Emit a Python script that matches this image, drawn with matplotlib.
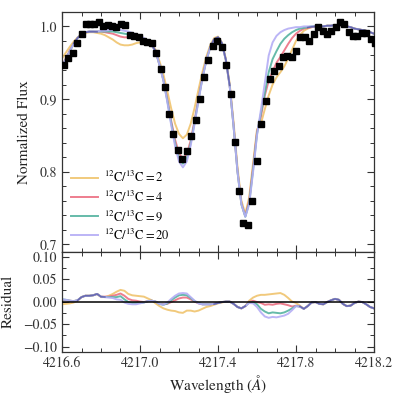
import numpy as np
import matplotlib
matplotlib.use("Agg")
import matplotlib.pyplot as plt
from matplotlib.ticker import MultipleLocator, FixedLocator, FuncFormatter

plt.rcParams['font.family'] = ['STIXGeneral', 'DejaVu Serif']
plt.rcParams['mathtext.fontset'] = 'stix'

# ---------------- observed spectrum ----------------
obs_wave = [4216.610, 4216.632, 4216.655, 4216.678, 4216.701, 4216.723, 4216.744, 4216.766, 4216.788, 4216.812,
            4216.834, 4216.856, 4216.878, 4216.903, 4216.925, 4216.949, 4216.971, 4216.993, 4217.014, 4217.037,
            4217.062, 4217.084, 4217.106, 4217.128, 4217.150, 4217.171, 4217.195, 4217.217, 4217.239, 4217.262,
            4217.286, 4217.308, 4217.328, 4217.350, 4217.373, 4217.396, 4217.419, 4217.441, 4217.465, 4217.486,
            4217.509, 4217.530, 4217.555, 4217.576, 4217.598, 4217.621, 4217.644, 4217.667, 4217.687, 4217.711,
            4217.732, 4217.755, 4217.778, 4217.800, 4217.822, 4217.846, 4217.868, 4217.891, 4217.913, 4217.937,
            4217.957, 4217.979, 4218.004, 4218.026, 4218.046, 4218.070, 4218.092, 4218.114, 4218.138, 4218.161,
            4218.183, 4218.205]
obs_flux = [0.947, 0.956, 0.964, 0.977, 0.990, 1.003, 1.003, 1.004, 1.006, 1.000,
            1.002, 1.001, 0.999, 1.004, 1.002, 0.988, 0.987, 0.985, 0.980, 0.979,
            0.977, 0.964, 0.941, 0.916, 0.880, 0.852, 0.830, 0.817, 0.828, 0.849,
            0.871, 0.900, 0.931, 0.954, 0.973, 0.980, 0.972, 0.947, 0.907, 0.841,
            0.773, 0.730, 0.727, 0.760, 0.815, 0.865, 0.898, 0.928, 0.938, 0.946,
            0.958, 0.959, 0.958, 0.966, 0.986, 0.985, 0.980, 0.989, 0.999, 0.994,
            0.989, 0.994, 0.999, 1.006, 1.003, 0.992, 0.987, 0.987, 0.991, 0.991,
            0.982, 0.977]

# ---------------- model grid ----------------
model_wave = [4216.60, 4216.62, 4216.64, 4216.66, 4216.68, 4216.70, 4216.72, 4216.74, 4216.76, 4216.78,
              4216.80, 4216.82, 4216.84, 4216.86, 4216.88, 4216.90, 4216.92, 4216.94, 4216.96, 4216.98,
              4217.00, 4217.02, 4217.04, 4217.06, 4217.08, 4217.10, 4217.12, 4217.14, 4217.16, 4217.18,
              4217.20, 4217.22, 4217.24, 4217.26, 4217.28, 4217.30, 4217.32, 4217.34, 4217.36, 4217.38,
              4217.40, 4217.42, 4217.44, 4217.46, 4217.48, 4217.50, 4217.52, 4217.54, 4217.56, 4217.58,
              4217.60, 4217.62, 4217.64, 4217.66, 4217.68, 4217.70, 4217.72, 4217.74, 4217.76, 4217.78,
              4217.80, 4217.82, 4217.84, 4217.86, 4217.88, 4217.90, 4217.92, 4217.94, 4217.96, 4217.98,
              4218.00, 4218.02, 4218.04, 4218.06, 4218.08, 4218.10, 4218.12, 4218.14, 4218.16, 4218.18,
              4218.20]

ratios = [2, 4, 9, 20]

flux_r2 = [0.956, 0.964, 0.972, 0.979, 0.985, 0.989, 0.991, 0.992, 0.992, 0.991,
           0.990, 0.988, 0.985, 0.982, 0.978, 0.975, 0.974, 0.974, 0.975, 0.977,
           0.978, 0.979, 0.978, 0.975, 0.968, 0.952, 0.934, 0.911, 0.887, 0.866,
           0.852, 0.846, 0.851, 0.866, 0.888, 0.913, 0.937, 0.958, 0.974, 0.984,
           0.986, 0.978, 0.956, 0.921, 0.868, 0.806, 0.760, 0.742, 0.765, 0.812,
           0.858, 0.866, 0.886, 0.905, 0.920, 0.930, 0.937, 0.945, 0.956, 0.968,
           0.980, 0.988, 0.994, 0.997, 0.999, 1.000, 1.000, 1.000, 1.001, 1.001,
           1.002, 1.002, 1.001, 1.000, 0.999, 0.997, 0.996, 0.995, 0.994, 0.992,
           0.990]
flux_r4 = [0.946, 0.956, 0.967, 0.976, 0.984, 0.989, 0.992, 0.993, 0.993, 0.993,
           0.993, 0.992, 0.991, 0.990, 0.988, 0.986, 0.985, 0.985, 0.985, 0.985,
           0.984, 0.982, 0.979, 0.974, 0.966, 0.947, 0.927, 0.900, 0.870, 0.844,
           0.825, 0.818, 0.824, 0.843, 0.871, 0.901, 0.930, 0.954, 0.971, 0.982,
           0.985, 0.977, 0.954, 0.918, 0.863, 0.801, 0.756, 0.739, 0.760, 0.806,
           0.855, 0.876, 0.905, 0.925, 0.938, 0.950, 0.958, 0.967, 0.976, 0.984,
           0.990, 0.994, 0.997, 0.998, 0.999, 1.000, 1.000, 1.000, 1.001, 1.001,
           1.002, 1.002, 1.001, 1.000, 0.999, 0.997, 0.996, 0.995, 0.994, 0.992,
           0.990]
flux_r9 = [0.945, 0.955, 0.966, 0.976, 0.984, 0.989, 0.992, 0.993, 0.993, 0.993,
           0.993, 0.993, 0.993, 0.993, 0.992, 0.991, 0.990, 0.989, 0.988, 0.987,
           0.986, 0.983, 0.980, 0.974, 0.966, 0.947, 0.926, 0.898, 0.867, 0.839,
           0.819, 0.811, 0.818, 0.839, 0.868, 0.899, 0.929, 0.953, 0.971, 0.982,
           0.985, 0.977, 0.954, 0.918, 0.862, 0.800, 0.755, 0.738, 0.757, 0.803,
           0.852, 0.880, 0.908, 0.937, 0.955, 0.966, 0.976, 0.983, 0.988, 0.992,
           0.995, 0.997, 0.998, 0.999, 1.000, 1.000, 1.000, 1.000, 1.001, 1.001,
           1.002, 1.002, 1.001, 1.000, 0.999, 0.997, 0.996, 0.995, 0.994, 0.992,
           0.990]
flux_r20 = [0.944, 0.955, 0.966, 0.976, 0.984, 0.989, 0.992, 0.993, 0.993, 0.993,
            0.994, 0.994, 0.995, 0.995, 0.995, 0.995, 0.994, 0.993, 0.991, 0.989,
            0.987, 0.984, 0.980, 0.974, 0.966, 0.947, 0.925, 0.896, 0.864, 0.835,
            0.814, 0.806, 0.814, 0.836, 0.866, 0.898, 0.928, 0.953, 0.971, 0.982,
            0.985, 0.977, 0.954, 0.918, 0.862, 0.800, 0.755, 0.738, 0.755, 0.800,
            0.850, 0.885, 0.922, 0.960, 0.978, 0.987, 0.992, 0.995, 0.997, 0.998,
            0.999, 0.999, 1.000, 1.000, 1.000, 1.000, 1.000, 1.000, 1.001, 1.001,
            1.002, 1.002, 1.001, 1.000, 0.999, 0.997, 0.996, 0.995, 0.994, 0.992,
            0.990]

resid_r2 = [-0.006, -0.005, -0.004, -0.002, 0.002, 0.010, 0.013, 0.013, 0.014, 0.017,
            0.010, 0.010, 0.013, 0.017, 0.022, 0.026, 0.024, 0.017, 0.014, 0.013,
            0.012, 0.011, 0.007, 0.003, -0.004, -0.010, -0.015, -0.018, -0.020, -0.021,
            -0.024, -0.025, -0.020, -0.020, -0.022, -0.020, -0.016, -0.012, -0.010, -0.007,
            -0.004, -0.002, 0.000, 0.000, -0.005, -0.012, -0.015, -0.010, 0.002, 0.009,
            0.013, 0.015, 0.015, 0.016, 0.017, 0.018, 0.019, 0.015, 0.008, 0.000,
            -0.003, -0.009, -0.016, -0.010, -0.002, -0.001, -0.005, -0.006, -0.001, 0.003,
            0.006, 0.004, -0.005, -0.010, -0.009, -0.003, 0.000, -0.001, -0.006, -0.012,
            -0.015]
resid_r4 = [0.004, 0.003, 0.002, 0.001, 0.003, 0.010, 0.013, 0.013, 0.014, 0.017,
            0.011, 0.011, 0.011, 0.013, 0.015, 0.018, 0.013, 0.006, 0.003, 0.002,
            0.000, -0.001, 0.001, 0.002, 0.000, -0.005, -0.006, -0.005, -0.001, 0.003,
            0.007, 0.009, 0.009, 0.005, 0.000, -0.004, -0.006, -0.006, -0.006, -0.005,
            -0.003, -0.001, 0.000, 0.000, -0.005, -0.012, -0.015, -0.010, -0.001, 0.002,
            -0.001, -0.003, -0.007, -0.006, -0.007, -0.005, -0.004, -0.006, -0.008, -0.011,
            -0.009, -0.011, -0.016, -0.010, -0.002, -0.001, -0.005, -0.006, -0.001, 0.003,
            0.006, 0.004, -0.005, -0.010, -0.009, -0.003, 0.000, -0.001, -0.006, -0.012,
            -0.015]
resid_r9 = [0.005, 0.004, 0.002, 0.001, 0.003, 0.010, 0.013, 0.013, 0.014, 0.017,
            0.011, 0.010, 0.010, 0.010, 0.010, 0.012, 0.005, -0.001, -0.003, -0.003,
            -0.003, -0.002, 0.001, 0.002, 0.000, -0.005, -0.007, -0.004, 0.003, 0.009,
            0.014, 0.015, 0.014, 0.008, 0.001, -0.003, -0.006, -0.006, -0.006, -0.005,
            -0.003, -0.001, 0.000, 0.000, -0.005, -0.012, -0.015, -0.010, -0.002, -0.001,
            -0.006, -0.016, -0.022, -0.026, -0.024, -0.025, -0.026, -0.024, -0.020, -0.015,
            -0.010, -0.011, -0.016, -0.010, -0.002, -0.001, -0.005, -0.006, -0.001, 0.003,
            0.006, 0.004, -0.005, -0.010, -0.009, -0.003, 0.000, -0.001, -0.006, -0.012,
            -0.015]
resid_r20 = [0.005, 0.004, 0.002, 0.001, 0.003, 0.010, 0.013, 0.013, 0.014, 0.017,
             0.011, 0.010, 0.009, 0.008, 0.005, 0.004, -0.002, -0.005, -0.006, -0.006,
             -0.004, -0.002, 0.001, 0.002, 0.000, -0.005, -0.007, -0.002, 0.006, 0.013,
             0.018, 0.019, 0.018, 0.010, 0.002, -0.004, -0.006, -0.006, -0.006, -0.005,
             -0.003, -0.001, 0.000, 0.000, -0.005, -0.012, -0.015, -0.010, -0.003, -0.004,
             -0.012, -0.024, -0.033, -0.036, -0.034, -0.035, -0.033, -0.031, -0.027, -0.019,
             -0.010, -0.011, -0.016, -0.010, -0.002, -0.001, -0.005, -0.006, -0.001, 0.003,
             0.006, 0.004, -0.005, -0.010, -0.009, -0.003, 0.000, -0.001, -0.006, -0.012,
             -0.015]

x_ticks = [4216.6, 4217.0, 4217.4, 4217.8, 4218.2]

colors = ['#f0c46e', '#ec6f82', '#55b3a0', '#b4adf5']
overlap_color = '#5c5ca6'

fluxes = [flux_r2, flux_r4, flux_r9, flux_r20]
resids = [resid_r2, resid_r4, resid_r9, resid_r20]

fig = plt.figure(figsize=(4, 4), dpi=100)
ax1 = fig.add_axes([0.155, 0.371, 0.78, 0.598])
ax2 = fig.add_axes([0.155, 0.121, 0.78, 0.25], sharex=ax1)

mw = np.array(model_wave)
for r, f, c in zip(ratios, fluxes, colors):
    ax1.plot(mw, f, color=c, lw=1.4, alpha=0.9,
             label=r'$^{12}\mathrm{C}/^{13}\mathrm{C}=%d$' % r)
F = np.array(fluxes)
common = np.where(F.max(0) - F.min(0) < 0.004, F.mean(0), np.nan)
ax1.plot(mw, common, color=overlap_color, lw=1.1, alpha=0.85)
ax1.plot(obs_wave, obs_flux, 's', color='black', ms=4.2, zorder=5)

for f, c in zip(resids, colors):
    ax2.plot(mw, f, color=c, lw=1.4, alpha=0.9)
R = np.array(resids)
rcommon = np.where(R.max(0) - R.min(0) < 0.003, R.mean(0), np.nan)
ax2.plot(mw, rcommon, color=overlap_color, lw=1.1, alpha=0.85)
ax2.axhline(0, color='black', lw=1.1, zorder=4)

ax1.set_xlim(4216.6, 4218.2)
ax1.set_ylim(0.690, 1.0193)
ax2.set_ylim(-0.111, 0.111)

ax1.yaxis.set_major_locator(MultipleLocator(0.1))
ax1.yaxis.set_minor_locator(MultipleLocator(0.02))
ax2.yaxis.set_major_locator(MultipleLocator(0.05))
ax2.yaxis.set_minor_locator(MultipleLocator(0.025))
ax2.xaxis.set_major_locator(FixedLocator(x_ticks))
ax2.xaxis.set_minor_locator(MultipleLocator(0.1))

for ax in (ax1, ax2):
    ax.tick_params(which='both', direction='in', top=True, right=True, labelsize=10, colors='#333333')
    ax.tick_params(which='major', length=5, width=0.8)
    ax.tick_params(which='minor', length=3, width=0.7)
    for s in ax.spines.values():
        s.set_color('#333333')
        s.set_linewidth(0.9)
plt.setp(ax1.get_xticklabels(), visible=False)
ax2.xaxis.set_major_formatter(FuncFormatter(lambda v, p: '%.1f' % v))
ax1.yaxis.set_major_formatter(FuncFormatter(lambda v, p: '%.1f' % v))
ax2.yaxis.set_major_formatter(FuncFormatter(lambda v, p: ('%.2f' % v).replace('-', '\u2212')))

ax1.set_ylabel('Normalized Flux', fontsize=11, color='#222222')
ax2.set_ylabel('Residual', fontsize=11, color='#222222')
ax2.set_xlabel(r'Wavelength ($\AA$)', fontsize=11, color='#222222', labelpad=2)
ax1.yaxis.set_label_coords(-0.098, 0.5)
ax2.yaxis.set_label_coords(-0.15, 0.5)

ax1.legend(loc='lower left', frameon=False, fontsize=9, handlelength=2.2,
           handletextpad=0.5, labelspacing=0.35, borderaxespad=0.3)

fig.savefig('out.png', dpi=100)
